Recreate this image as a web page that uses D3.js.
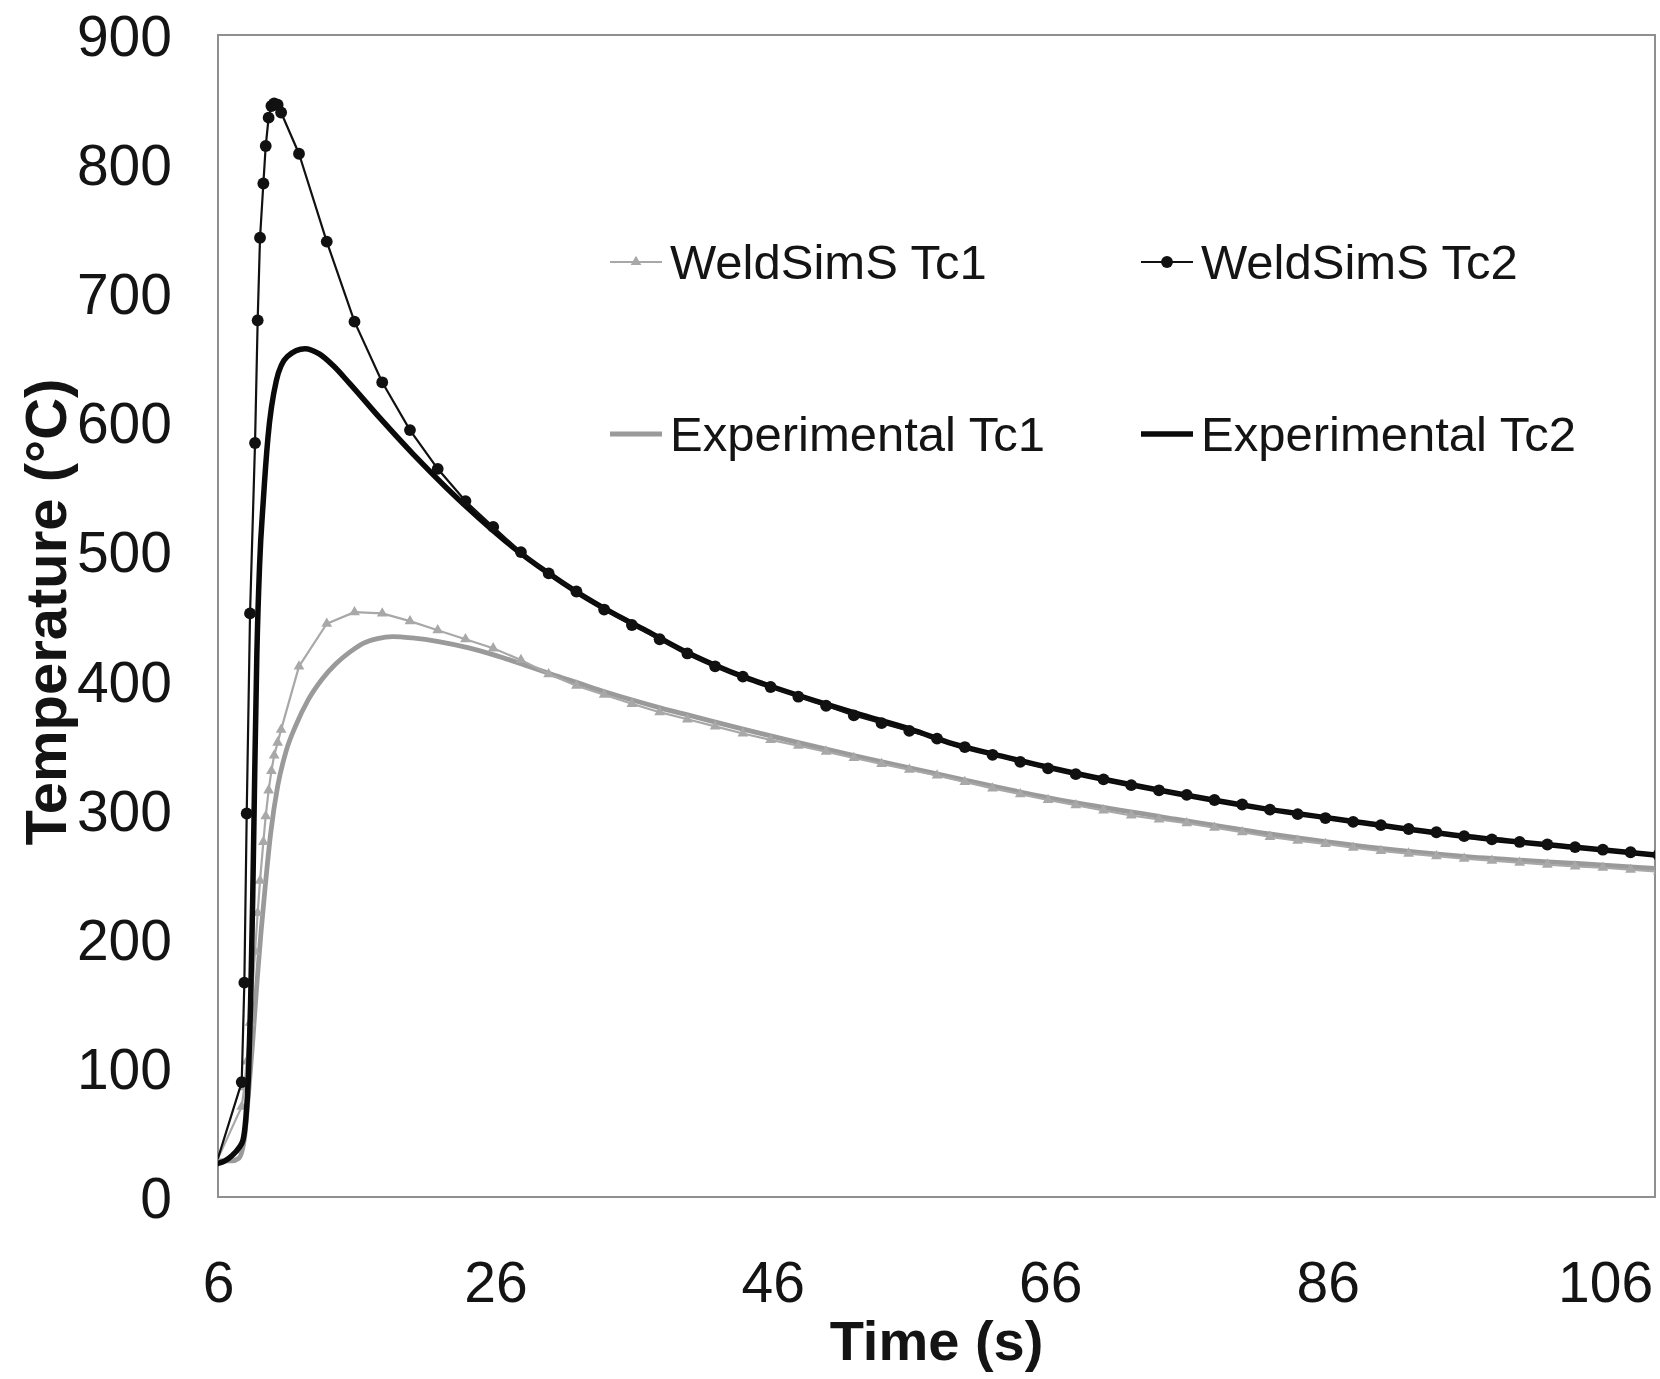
<!DOCTYPE html>
<html>
<head>
<meta charset="utf-8">
<script src="https://cdn.jsdelivr.net/npm/d3@7"></script>
<style>
  html, body { margin: 0; padding: 0; background: #ffffff; }
  svg { display: block; }
  text { font-family: "Liberation Sans", Arial, sans-serif; fill: #141414; }
</style>
</head>
<body>
<svg id="chart" width="1660" height="1379"></svg>
<script>
// ---------------- data ----------------
const seriesNames = ["WeldSimS Tc1", "WeldSimS Tc2", "Experimental Tc1", "Experimental Tc2"];

const xTicks = [6, 26, 46, 66, 86, 106];
const yTicks = [0, 100, 200, 300, 400, 500, 600, 700, 800, 900];
const xLabel = "Time (s)";
const yLabel = "Temperature (°C)";

// WeldSimS Tc1 (simulation, grey thin line with small markers)
const simTc1T = [6, 7.71, 7.9, 8.07, 8.31, 8.67, 8.86, 9.03, 9.27, 9.44, 9.65, 9.85, 10.05, 10.3, 10.55,
  11.84, 13.84, 15.84, 17.84, 19.84, 21.84, 23.84, 25.84, 27.84, 29.84, 31.84, 33.84, 35.84, 37.84, 39.84,
  41.84, 43.84, 45.84, 47.84, 49.84, 51.84, 53.84, 55.84, 57.84, 59.84, 61.84, 63.84, 65.84, 67.84, 69.84,
  71.84, 73.84, 75.84, 77.84, 79.84, 81.84, 83.84, 85.84, 87.84, 89.84, 91.84, 93.84, 95.84, 97.84, 99.84,
  101.84, 103.84, 105.84, 107.84, 109.84];
const simTc1V = [30, 70, 85, 105, 135, 190, 220, 245, 275, 295, 315, 330, 342, 352, 362,
  411, 444, 453, 452, 446, 439, 432, 425, 416, 405, 396, 389, 382, 375.5, 370,
  364.5, 359, 354, 349.5, 345, 340, 335.5, 331, 326.5, 321.5, 316.5, 312, 307.5, 303.5, 299.5,
  295.5, 292.5, 289.5, 286, 282.5, 279, 276, 273.5, 270.5, 268, 266, 264, 262, 260.5, 259,
  257.5, 256, 255, 253.5, 252];

// WeldSimS Tc2 (simulation, black thin line with round markers)
const simTc2T = [6, 7.71, 7.9, 8.07, 8.31, 8.67, 8.86, 9.03, 9.27, 9.44, 9.65, 9.85, 10.05, 10.3, 10.55,
  11.84, 13.84, 15.84, 17.84, 19.84, 21.84, 23.84, 25.84, 27.84, 29.84, 31.84, 33.84, 35.84, 37.84, 39.84,
  41.84, 43.84, 45.84, 47.84, 49.84, 51.84, 53.84, 55.84, 57.84, 59.84, 61.84, 63.84, 65.84, 67.84, 69.84,
  71.84, 73.84, 75.84, 77.84, 79.84, 81.84, 83.84, 85.84, 87.84, 89.84, 91.84, 93.84, 95.84, 97.84, 99.84,
  101.84, 103.84, 105.84, 107.84, 109.84];
const simTc2V = [30, 89, 166, 297, 452, 584, 679, 743, 785, 814, 836, 845, 847, 846, 840,
  808, 740, 678, 631, 594, 564, 539, 519, 499.5, 483, 469, 455, 443, 432, 421,
  411, 403, 395, 387.5, 380.5, 373, 367, 361, 355, 348.5, 342.5, 337, 332, 327.5, 323.5,
  319, 315, 311.5, 307.5, 304, 300, 296.5, 293.5, 290.5, 288, 285, 282.5, 279.5, 277, 275,
  273, 271, 269, 267, 265];

// Experimental Tc1 (grey thick line)
const expTc1T = [6, 7, 7.5, 7.9, 8.2, 8.5, 8.8, 9.1, 9.4, 9.8, 10.3, 10.9, 11.6, 12.5, 13.5, 14.5, 15.5,
  16.5, 17.5, 18.6, 20, 22, 24, 26, 28, 30, 32, 34, 36, 38, 40, 44, 48, 52, 56, 60, 66, 74, 81, 89, 96, 104, 109.6];
const expTc1V = [28, 28, 30, 45, 80, 120, 165, 205, 240, 282, 318, 345, 365, 385, 401, 413, 422,
  429, 432.5, 434, 433, 430, 425.5, 419.5, 412.5, 405, 398, 391, 384.5, 378.5, 373, 362, 351.5, 341.5, 332, 322.5,
  309, 294.5, 282.5, 271, 263.7, 258.3, 254.5];

// Experimental Tc2 (black thick line)
const expTc2T = [6, 6.5, 7, 7.5, 7.8, 8.0, 8.2, 8.35, 8.5, 8.65, 8.8, 9.0, 9.27, 9.6, 10.2, 11.0, 12.27,
  13.3, 14.3, 15.5, 17.7, 20.1, 22.5, 24.9, 27.3, 29.7, 32.1, 34.5, 36.9, 39.3, 41.7, 44, 46, 49, 52, 56,
  59, 62.5, 66.4, 73.9, 81.3, 88.8, 96.2, 103.7, 109.6];
const expTc2V = [26, 28, 32, 38, 44, 60, 95, 150, 230, 330, 420, 490, 540, 588, 632, 651, 657,
  653, 644, 630, 603, 575, 549, 525, 503, 484, 467, 452, 438.5, 424.5, 412.5, 402.5, 395, 384.5, 374.5, 362,
  351, 341.5, 331.5, 315, 301, 289.5, 279, 271, 265];

// ---------------- layout ----------------
const svg = d3.select("#chart");
const plot = { left: 218, right: 1655, top: 35, bottom: 1197 };

const x = d3.scaleLinear().domain([6, 109.6]).range([plot.left, plot.right]);
const y = d3.scaleLinear().domain([0, 900]).range([plot.bottom, plot.top]);

svg.append("defs").append("clipPath").attr("id", "plotClip")
  .append("rect")
  .attr("x", plot.left).attr("y", plot.top - 10)
  .attr("width", plot.right - plot.left).attr("height", plot.bottom - plot.top + 10);

// axes (labels only, no tick marks)
const xAxis = svg.append("g")
  .attr("transform", `translate(0,${plot.bottom})`)
  .call(d3.axisBottom(x).tickValues(xTicks).tickSize(0).tickPadding(65).tickFormat(d3.format("d")));
xAxis.select(".domain").remove();
xAxis.selectAll("text")
  .attr("font-size", 57)
  .attr("font-family", "Liberation Sans, Arial, sans-serif")
  .attr("fill", "#141414");

const yAxis = svg.append("g")
  .attr("transform", `translate(${plot.left},0)`)
  .call(d3.axisLeft(y).tickValues(yTicks).tickSize(0).tickPadding(46).tickFormat(d3.format("d")));
yAxis.select(".domain").remove();
yAxis.selectAll("text")
  .attr("font-size", 57)
  .attr("dy", "0.36em")
  .attr("font-family", "Liberation Sans, Arial, sans-serif")
  .attr("fill", "#141414");

// frame
svg.append("rect")
  .attr("x", plot.left).attr("y", plot.top)
  .attr("width", plot.right - plot.left).attr("height", plot.bottom - plot.top)
  .attr("fill", "none").attr("stroke", "#8f8f8f").attr("stroke-width", 2);

// axis titles
svg.append("text")
  .attr("x", (plot.left + plot.right) / 2).attr("y", 1360)
  .attr("text-anchor", "middle")
  .attr("font-size", 56).attr("font-weight", "bold")
  .text(xLabel);

svg.append("text")
  .attr("transform", `translate(66,612) rotate(-90)`)
  .attr("text-anchor", "middle")
  .attr("font-size", 58).attr("font-weight", "bold")
  .text(yLabel);

// ---------------- series ----------------
const zip = (ts, vs) => ts.map((t, i) => ({ t: t, v: vs[i] }));
const dataArr = [zip(simTc1T, simTc1V), zip(simTc2T, simTc2V), zip(expTc1T, expTc1V), zip(expTc2T, expTc2V)];

const styles = [
  { color: "#a8a8a8", width: 2.2, curve: d3.curveLinear, marker: "tri" },
  { color: "#111111", width: 2.2, curve: d3.curveLinear, marker: "circle" },
  { color: "#9a9a9a", width: 4.8, curve: d3.curveMonotoneX, marker: null },
  { color: "#0a0a0a", width: 5.5, curve: d3.curveMonotoneX, marker: null }
];

const g = svg.append("g").attr("clip-path", "url(#plotClip)");
const drawOrder = [2, 0, 3, 1];

const triSym = d3.symbol().type(d3.symbolTriangle).size(50);
const cirSym = d3.symbol().type(d3.symbolCircle).size(110);

drawOrder.forEach(k => {
  const st = styles[k];
  const line = d3.line().x(d => x(d.t)).y(d => y(d.v)).curve(st.curve);
  g.append("path")
    .datum(dataArr[k])
    .attr("d", line)
    .attr("fill", "none")
    .attr("stroke", st.color)
    .attr("stroke-width", st.width)
    .attr("stroke-linejoin", "round")
    .attr("stroke-linecap", "round");
  if (st.marker) {
    const sym = st.marker === "tri" ? triSym : cirSym;
    g.selectAll(null)
      .data(dataArr[k].slice(1))
      .enter().append("path")
      .attr("d", sym)
      .attr("transform", d => `translate(${x(d.t)},${y(d.v)})`)
      .attr("fill", st.color);
  }
});

// ---------------- legend ----------------
const legendPos = [
  { x: 610, y: 262 }, { x: 1141, y: 262 },
  { x: 610, y: 434 }, { x: 1141, y: 434 }
];
seriesNames.forEach((name, k) => {
  const st = styles[k];
  const p = legendPos[k];
  const lg = svg.append("g").attr("transform", `translate(${p.x},${p.y})`);
  lg.append("line")
    .attr("x1", 0).attr("x2", 52).attr("y1", 0).attr("y2", 0)
    .attr("stroke", st.color).attr("stroke-width", st.width);
  if (st.marker) {
    lg.append("path")
      .attr("d", st.marker === "tri" ? triSym : cirSym)
      .attr("transform", "translate(26,0)")
      .attr("fill", st.color);
  }
  lg.append("text")
    .attr("x", 60).attr("y", 0).attr("dy", "0.35em")
    .attr("font-size", 49)
    .text(name);
});
</script>
</body>
</html>
